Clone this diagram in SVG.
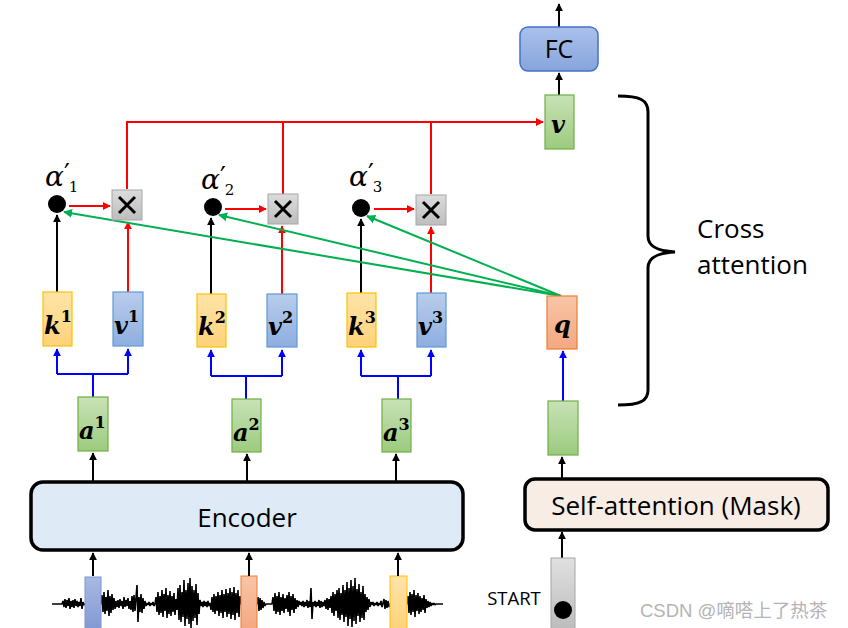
<svg xmlns="http://www.w3.org/2000/svg" width="848" height="628" viewBox="0 0 848 628">
<style>
.ln{fill:none;stroke-width:2}
.blk{stroke:#000}
.red{stroke:#ff0000}
.grn{stroke:#00b050}
.blu{stroke:#0000ff}
.sym{font-family:"DejaVu Serif","Liberation Serif",serif;font-weight:bold;font-style:italic;font-size:24px;fill:#000}
.sup{font-style:normal;font-size:16px}
.alpha{font-family:"DejaVu Serif","Liberation Serif",serif;font-style:italic;font-size:28px;fill:#000}
.pr{font-style:normal;font-size:26px}
.sub{font-style:normal;font-size:15px}
.lbl{font-family:"Open Sans","Liberation Sans",sans-serif;fill:#000}
</style>
<defs>
<linearGradient id="gk" x1="0" y1="0" x2="0" y2="1"><stop offset="0" stop-color="#ffe4a8"/><stop offset="1" stop-color="#ffd27a"/></linearGradient>
<linearGradient id="gv" x1="0" y1="0" x2="0" y2="1"><stop offset="0" stop-color="#b9cdec"/><stop offset="1" stop-color="#8eaedf"/></linearGradient>
<linearGradient id="ga" x1="0" y1="0" x2="0" y2="1"><stop offset="0" stop-color="#c8e2b6"/><stop offset="1" stop-color="#9ccb7e"/></linearGradient>
<linearGradient id="gq" x1="0" y1="0" x2="0" y2="1"><stop offset="0" stop-color="#f8c5a8"/><stop offset="1" stop-color="#f4a880"/></linearGradient>
<linearGradient id="gx" x1="0" y1="0" x2="0" y2="1"><stop offset="0" stop-color="#dcdcdc"/><stop offset="1" stop-color="#bdbdbd"/></linearGradient>
<linearGradient id="gfc" x1="0" y1="0" x2="0" y2="1"><stop offset="0" stop-color="#aac0ea"/><stop offset="1" stop-color="#86a5dc"/></linearGradient>
<linearGradient id="gs" x1="0" y1="0" x2="0" y2="1"><stop offset="0" stop-color="#e0e0e0"/><stop offset="1" stop-color="#bcbcbc"/></linearGradient>
<linearGradient id="gw1" x1="0" y1="0" x2="0" y2="1"><stop offset="0" stop-color="#a9b9e3"/><stop offset="1" stop-color="#8299d3"/></linearGradient>
<marker id="ab" viewBox="0 0 10 10" refX="9" refY="5" markerWidth="8" markerHeight="8" markerUnits="userSpaceOnUse" orient="auto"><path d="M0 0L10 5L0 10z" fill="#000"/></marker>
<marker id="ar" viewBox="0 0 10 10" refX="9" refY="5" markerWidth="8" markerHeight="8" markerUnits="userSpaceOnUse" orient="auto"><path d="M0 0L10 5L0 10z" fill="#ff0000"/></marker>
<marker id="ag" viewBox="0 0 10 10" refX="9" refY="5" markerWidth="9" markerHeight="9" markerUnits="userSpaceOnUse" orient="auto"><path d="M0 0L10 5L0 10z" fill="#00b050"/></marker>
<marker id="au" viewBox="0 0 10 10" refX="9" refY="5" markerWidth="8" markerHeight="8" markerUnits="userSpaceOnUse" orient="auto"><path d="M0 0L10 5L0 10z" fill="#0000ff"/></marker>
</defs>
<rect width="848" height="628" fill="#fff"/>

<!-- waveform -->
<g id="waveform">
<polyline fill="none" stroke="#000" stroke-width="1.6" stroke-linejoin="bevel" points="52,604 62,604 63,601 64,607 65,599 66,608 67,600 68,606 69,598 70,609 71,601 72,607 73,600 74,608 75,599 76,606 77,601 78,607 79,602 80,606 81,598 82,609 83,602 84,605 85,604 101,604 102,595 103,612 104,592 105,614 106,597 107,611 108,590 109,616 110,596 111,613 112,594 113,610 114,598 115,609 116,601 117,607 118,600 119,608 120,599 121,606 122,601 123,609 124,597 125,607 126,600 127,606 128,598 129,609 130,601 131,610 132,596 133,612 134,595 135,611 136,598 137,585 138,622 139,597 140,612 141,594 142,613 143,598 144,609 145,601 146,606 147,603 148,605 149,602 150,606 151,603 152,605 153,602 154,606 155,604 156,597 157,612 158,592 159,615 160,596 161,613 162,590 163,617 164,594 165,611 166,588 167,618 168,595 169,614 170,591 171,616 172,596 173,612 174,593 175,615 176,599 177,610 178,588 179,620 180,585 181,622 182,592 183,617 184,580 185,626 186,590 187,619 188,583 189,624 190,578 191,628 192,586 193,621 194,590 195,618 196,584 197,625 198,593 199,614 200,600 201,606 202,602 203,607 204,601 205,606 206,602 207,607 208,601 209,606 210,603 211,610 212,597 213,612 214,594 215,614 216,596 217,611 218,592 219,616 220,595 221,613 222,590 223,618 224,594 225,612 226,589 227,617 228,593 229,614 230,588 231,619 232,592 233,615 234,587 235,620 236,593 237,613 238,590 239,617 240,596 241,604 257,604 258,597 259,611 260,598 261,610 262,600 263,608 264,602 265,606 266,604 272,604 273,597 274,611 275,593 276,614 277,596 278,612 279,592 280,615 281,597 282,611 283,594 284,613 285,598 286,609 287,595 288,612 289,592 290,616 291,596 292,610 293,594 294,613 295,598 296,609 297,600 298,607 299,601 300,605 301,602 302,606 303,601 304,607 305,602 306,606 307,600 308,608 309,601 310,607 311,588 312,619 313,602 314,606 315,601 316,607 317,602 318,606 319,600 320,608 321,601 322,607 323,602 324,606 325,600 326,609 327,598 328,610 329,599 330,608 331,596 332,613 333,592 334,616 335,594 336,611 337,590 338,618 339,588 340,620 341,593 342,615 343,585 344,622 345,590 346,617 347,582 348,626 349,588 350,619 351,580 352,627 353,586 354,621 355,578 356,624 357,589 358,616 359,584 360,622 361,592 362,618 363,586 364,620 365,594 366,612 367,597 368,610 369,599 370,607 371,602 372,605 373,602 374,606 375,603 376,605 377,602 378,606 379,603 380,605 381,601 382,607 383,603 384,599 385,609 386,600 387,608 388,601 389,607 390,604 407,604 408,596 409,613 410,592 411,615 412,594 413,612 414,590 415,617 416,595 417,611 418,593 419,614 420,596 421,612 422,598 423,610 424,595 425,613 426,599 427,608 428,601 429,607 430,602 431,606 432,603 433,605 434,603 435,605 436,604 443,604"/>
<rect x="85" y="577" width="16" height="52" fill="url(#gw1)" stroke="#7b96d2" stroke-width="1"/>
<rect x="241" y="576" width="16" height="53" fill="url(#gq)" stroke="#ed7d31" stroke-width="1"/>
<rect x="390" y="576" width="17" height="53" fill="url(#gk)" stroke="#ffc000" stroke-width="1"/>
</g>

<!-- connectors -->
<g id="connectors">
<path class="ln blk" d="M93 576V553" marker-end="url(#ab)"/>
<path class="ln blk" d="M249 576V553" marker-end="url(#ab)"/>
<path class="ln blk" d="M398 576V553" marker-end="url(#ab)"/>
<path class="ln blk" d="M93 481V453" marker-end="url(#ab)"/>
<path class="ln blk" d="M247 481V454" marker-end="url(#ab)"/>
<path class="ln blk" d="M396 481V454" marker-end="url(#ab)"/>
<path class="ln blu" d="M93 397V374"/>
<path class="ln blu" d="M57 374H128"/>
<path class="ln blu" d="M57 374V349" marker-end="url(#au)"/>
<path class="ln blu" d="M128 374V349" marker-end="url(#au)"/>
<path class="ln blu" d="M246 399V376"/>
<path class="ln blu" d="M211 376H282"/>
<path class="ln blu" d="M211 376V350" marker-end="url(#au)"/>
<path class="ln blu" d="M282 376V350" marker-end="url(#au)"/>
<path class="ln blu" d="M398 399V376"/>
<path class="ln blu" d="M361 376H431"/>
<path class="ln blu" d="M361 376V350" marker-end="url(#au)"/>
<path class="ln blu" d="M431 376V350" marker-end="url(#au)"/>
<path class="ln blk" d="M57 292V215" marker-end="url(#ab)"/>
<path class="ln blk" d="M211 294V218" marker-end="url(#ab)"/>
<path class="ln blk" d="M361 293V219" marker-end="url(#ab)"/>
<path class="ln red" d="M128 292V222" marker-end="url(#ar)"/>
<path class="ln red" d="M282 294V226" marker-end="url(#ar)"/>
<path class="ln red" d="M431 293V227" marker-end="url(#ar)"/>
<path class="ln red" d="M69 206H110" marker-end="url(#ar)"/>
<path class="ln red" d="M225 209H266" marker-end="url(#ar)"/>
<path class="ln red" d="M374 209H414" marker-end="url(#ar)"/>
<path class="ln red" d="M127 189V122H543" marker-end="url(#ar)"/>
<path class="ln red" d="M283 194V122"/>
<path class="ln red" d="M431 194V122"/>
<path class="ln grn" d="M561 296L64 212" marker-end="url(#ag)"/>
<path class="ln grn" d="M561 296L219 215" marker-end="url(#ag)"/>
<path class="ln grn" d="M561 296L367 216" marker-end="url(#ag)"/>
<path class="ln blu" d="M563 401V351" marker-end="url(#au)"/>
<path class="ln blk" d="M562 479V457" marker-end="url(#ab)"/>
<path class="ln blk" d="M562 558V532" marker-end="url(#ab)"/>
<path class="ln blk" d="M559 95V73" marker-end="url(#ab)"/>
<path class="ln blk" d="M559 27V4" marker-end="url(#ab)"/>
</g>

<!-- encoder -->
<g id="encoder">
<rect x="31" y="482" width="432" height="68" rx="12" fill="#deeaf6" stroke="#000" stroke-width="3.5"/>
<text class="lbl" x="247" y="527" font-size="26" text-anchor="middle">Encoder</text>
</g>

<!-- a vectors -->
<g id="a1"><rect x="78" y="397" width="30" height="54" fill="url(#ga)" stroke="#70ad47" stroke-width="1.2"/><text class="sym" x="79" y="439">a<tspan class="sup" dy="-11">1</tspan></text></g>
<g id="a2"><rect x="232" y="399" width="29" height="53" fill="url(#ga)" stroke="#70ad47" stroke-width="1.2"/><text class="sym" x="233" y="441">a<tspan class="sup" dy="-11">2</tspan></text></g>
<g id="a3"><rect x="382" y="399" width="29" height="53" fill="url(#ga)" stroke="#70ad47" stroke-width="1.2"/><text class="sym" x="383" y="441">a<tspan class="sup" dy="-11">3</tspan></text></g>

<!-- k vectors -->
<g id="k1"><rect x="43" y="292" width="29" height="54" fill="url(#gk)" stroke="#ffc000" stroke-width="1.2"/><text class="sym" x="44" y="334">k<tspan class="sup" dy="-12">1</tspan></text></g>
<g id="k2"><rect x="197" y="294" width="29" height="53" fill="url(#gk)" stroke="#ffc000" stroke-width="1.2"/><text class="sym" x="198" y="335">k<tspan class="sup" dy="-12">2</tspan></text></g>
<g id="k3"><rect x="347" y="293" width="29" height="54" fill="url(#gk)" stroke="#ffc000" stroke-width="1.2"/><text class="sym" x="348" y="335">k<tspan class="sup" dy="-12">3</tspan></text></g>

<!-- v vectors -->
<g id="v1"><rect x="113" y="292" width="30" height="54" fill="url(#gv)" stroke="#5b9bd5" stroke-width="1.2"/><text class="sym" x="114" y="334">v<tspan class="sup" dy="-12">1</tspan></text></g>
<g id="v2"><rect x="267" y="294" width="30" height="53" fill="url(#gv)" stroke="#5b9bd5" stroke-width="1.2"/><text class="sym" x="268" y="335">v<tspan class="sup" dy="-12">2</tspan></text></g>
<g id="v3"><rect x="417" y="293" width="29" height="54" fill="url(#gv)" stroke="#5b9bd5" stroke-width="1.2"/><text class="sym" x="418" y="335">v<tspan class="sup" dy="-12">3</tspan></text></g>

<!-- attention scores -->
<g id="alpha1"><circle cx="57" cy="204" r="9" fill="#000"/><text class="alpha" x="45" y="186">α<tspan class="pr" dy="-4">′</tspan><tspan class="sub" dx="-1" dy="10">1</tspan></text></g>
<g id="alpha2"><circle cx="213" cy="207" r="9" fill="#000"/><text class="alpha" x="201" y="189">α<tspan class="pr" dy="-4">′</tspan><tspan class="sub" dx="-1" dy="10">2</tspan></text></g>
<g id="alpha3"><circle cx="361" cy="208" r="9" fill="#000"/><text class="alpha" x="349" y="186">α<tspan class="pr" dy="-4">′</tspan><tspan class="sub" dx="-1" dy="10">3</tspan></text></g>

<!-- multiply -->
<g id="mul1"><rect x="112" y="190" width="30" height="30" fill="url(#gx)" stroke="#a6a6a6" stroke-width="1"/><path d="M119 197L135 213M135 197L119 213" stroke="#000" stroke-width="3"/></g>
<g id="mul2"><rect x="268" y="194" width="30" height="30" fill="url(#gx)" stroke="#a6a6a6" stroke-width="1"/><path d="M275 201L291 217M291 201L275 217" stroke="#000" stroke-width="3"/></g>
<g id="mul3"><rect x="416" y="195" width="30" height="30" fill="url(#gx)" stroke="#a6a6a6" stroke-width="1"/><path d="M423 202L439 218M439 202L423 218" stroke="#000" stroke-width="3"/></g>

<!-- output v -->
<g id="vout"><rect x="545" y="95" width="29" height="54" fill="url(#ga)" stroke="#70ad47" stroke-width="1.2"/><text class="sym" x="551" y="133">v</text></g>

<!-- FC -->
<g id="fc"><rect x="520" y="27" width="78" height="44" rx="8" fill="url(#gfc)" stroke="#4472c4" stroke-width="1.5"/><text class="lbl" x="559" y="58" font-size="25" text-anchor="middle">FC</text></g>

<!-- q -->
<g id="q"><rect x="547" y="296" width="30" height="53" fill="url(#gq)" stroke="#ed7d31" stroke-width="1.2"/><text class="sym" x="554" y="333">q</text></g>

<!-- decoder hidden -->
<g id="dec-out"><rect x="548" y="401" width="30" height="54" fill="url(#ga)" stroke="#70ad47" stroke-width="1.2"/></g>

<!-- self-attention -->
<g id="self-attention">
<rect x="525" y="479" width="303" height="51" rx="10" fill="#f7ede5" stroke="#000" stroke-width="3.5"/>
<text class="lbl" x="676" y="515" font-size="26" text-anchor="middle">Self-attention (Mask)</text>
</g>

<!-- START -->
<g id="start">
<rect x="551" y="558" width="24" height="72" fill="url(#gs)" stroke="#a6a6a6" stroke-width="1"/>
<circle cx="563" cy="610" r="9" fill="#000"/>
<text class="lbl" x="514" y="605" font-size="18.5" text-anchor="middle">START</text>
</g>

<!-- brace -->
<g id="cross-attention">
<path d="M618 96C640 96 648 100 648 112V236C648 246 656 251 675 252C656 253 648 258 648 268V390C648 401 640 405 618 405" fill="none" stroke="#000" stroke-width="3"/>
<text class="lbl" x="697" y="238" font-size="26">Cross</text>
<text class="lbl" x="697" y="274" font-size="26">attention</text>
</g>

<text x="640" y="617" font-family="'Liberation Sans','Noto Sans CJK SC',sans-serif" font-size="18.5" fill="#b4b4b4">CSDN @嘀嗒上了热茶</text>
</svg>
